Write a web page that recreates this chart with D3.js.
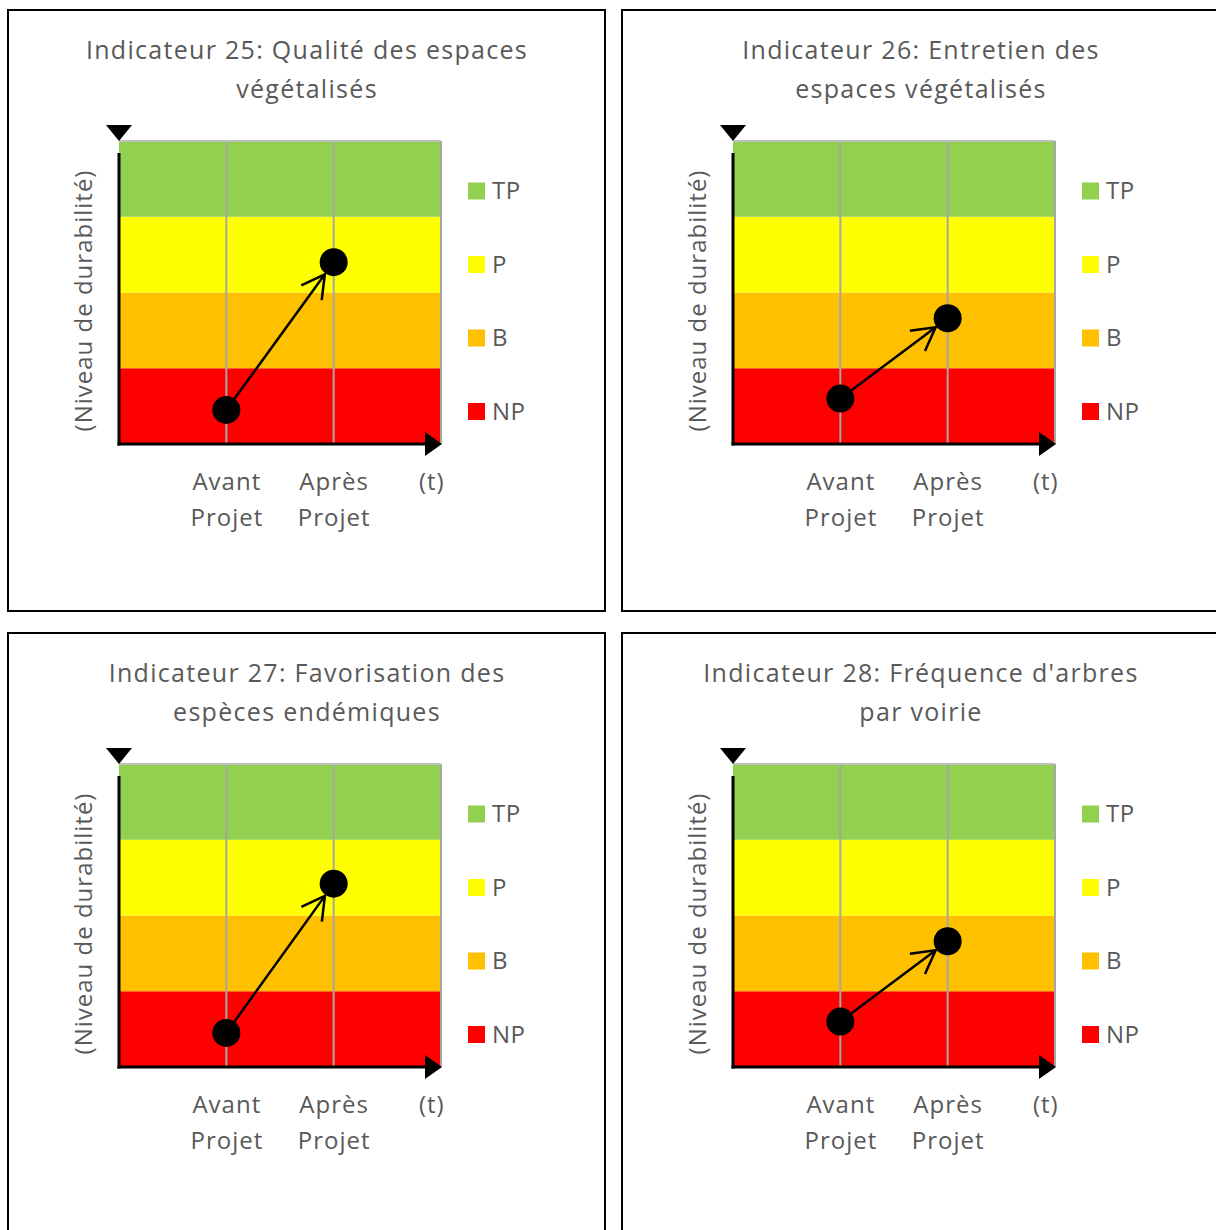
<!DOCTYPE html>
<html><head><meta charset="utf-8">
<script src="https://cdn.jsdelivr.net/npm/d3@7"></script>
<style>body{margin:0;background:#fff}svg{display:block}</style>
</head><body>
<script>
const titles = [
  ["Indicateur 25: Qualité des espaces", "végétalisés"],
  ["Indicateur 26: Entretien des", "espaces végétalisés"],
  ["Indicateur 27: Favorisation des", "espèces endémiques"],
  ["Indicateur 28: Fréquence d'arbres", "par voirie"]
];
const avantValues = [0.45, 0.6, 0.45, 0.6];
const apresValues = [2.4, 1.66, 2.42, 1.66];
const xCategories = [["Avant", "Projet"], ["Après", "Projet"], ["(t)"]];
const levels = ["NP", "B", "P", "TP"];
const levelColors = ["#FF0000", "#FFC000", "#FFFF00", "#92D050"];
const yTitle = "(Niveau de durabilité)";

const W = 1216, H = 1230;
const FONT = "'Open Sans', sans-serif";
const GREY = "#595959";
const svg = d3.select("body").append("svg").attr("width", W).attr("height", H);

const panelW = 597, panelH = 601, offX = 614, offY = 623;
const x = d3.scaleLinear().domain([0, 3]).range([111, 433]);
const y = d3.scaleLinear().domain([0, 4]).range([434, 131]);

titles.forEach((t, i) => {
  const col = i % 2, row = Math.floor(i / 2);
  const g = svg.append("g").attr("transform", `translate(${8 + col * offX},${10 + row * offY})`);
  g.append("rect").attr("x", 0).attr("y", 0).attr("width", panelW).attr("height", panelH)
    .attr("fill", "#fff").attr("stroke", "#000").attr("stroke-width", 2);

  // title
  g.append("text").attr("x", 298).attr("y", 40).attr("text-anchor", "middle")
    .attr("font-family", FONT).attr("font-size", 25).attr("letter-spacing", 1.3).attr("fill", GREY)
    .selectAll("tspan").data(t).join("tspan")
    .attr("x", 299).attr("dy", (d, j) => j === 0 ? 9 : 39).text(d => d);

  // bands
  g.selectAll("rect.band").data(levels).join("rect").attr("class", "band")
    .attr("x", x(0)).attr("width", x(3) - x(0))
    .attr("y", (d, k) => y(k + 1)).attr("height", (d, k) => y(k) - y(k + 1))
    .attr("fill", (d, k) => levelColors[k]);

  // grid lines
  g.selectAll("line.grid").data([1, 2, 3]).join("line").attr("class", "grid")
    .attr("x1", d => x(d)).attr("x2", d => x(d)).attr("y1", y(4)).attr("y2", y(0))
    .attr("stroke", "#A6A6A6").attr("stroke-width", 2);
  g.append("line").attr("x1", x(0)).attr("x2", x(3)).attr("y1", y(4)).attr("y2", y(4))
    .attr("stroke", "#BFBFBF").attr("stroke-width", 2);

  // y axis (with reversed arrow at top)
  g.append("line").attr("x1", x(0)).attr("x2", x(0)).attr("y1", y(4) + 12).attr("y2", y(0) + 1.5)
    .attr("stroke", "#000").attr("stroke-width", 3);
  g.append("path").attr("d", `M${x(0) - 13},${y(4) - 16} L${x(0) + 13},${y(4) - 16} L${x(0)},${y(4)} Z`)
    .attr("fill", "#000");
  // x axis with arrow
  g.append("line").attr("x1", x(0) - 1.5).attr("x2", x(3) - 12).attr("y1", y(0)).attr("y2", y(0))
    .attr("stroke", "#000").attr("stroke-width", 3);
  g.append("path").attr("d", `M${x(3) - 16},${y(0) - 12} L${x(3) - 16},${y(0) + 12} L${x(3) + 1},${y(0)} Z`)
    .attr("fill", "#000");

  // x category labels
  const xl = g.selectAll("text.xcat").data(xCategories).join("text").attr("class", "xcat")
    .attr("text-anchor", "middle").attr("font-family", FONT).attr("font-size", 24)
    .attr("letter-spacing", 1).attr("fill", GREY)
    .attr("transform", (d, k) => `translate(${(k === 2 ? x(2.91) : x(k + 1)) + 0.5},${y(0) + 46})`);
  xl.selectAll("tspan").data(d => d).join("tspan").attr("x", 0).attr("dy", (d, j) => j === 0 ? 0 : 36).text(d => d);

  // y title
  g.append("text").attr("transform", `translate(${76},${y(2) + 8}) rotate(-90)`)
    .attr("text-anchor", "middle").attr("dy", "0.35em")
    .attr("font-family", FONT).attr("font-size", 24).attr("letter-spacing", 1)
    .attr("fill", GREY).text(yTitle);

  // legend
  const leg = g.selectAll("g.leg").data(levels).join("g").attr("class", "leg")
    .attr("transform", (d, k) => `translate(460,${401 - k * 73.5})`);
  leg.append("rect").attr("x", 0).attr("y", -8).attr("width", 17).attr("height", 17)
    .attr("fill", (d, k) => levelColors[k]);
  leg.append("text").attr("x", 24).attr("y", 0).attr("dy", "0.36em")
    .attr("font-family", FONT).attr("font-size", 24).attr("letter-spacing", 0.5)
    .attr("fill", GREY).text(d => d);

  // arrow between points
  const p1 = [x(1), y(avantValues[i])], p2 = [x(2), y(apresValues[i])];
  const dx = p2[0] - p1[0], dy = p2[1] - p1[1], len = Math.hypot(dx, dy);
  const ux = dx / len, uy = dy / len, r = 14;
  const s = [p1[0] + ux * r, p1[1] + uy * r], e = [p2[0] - ux * (r + 1), p2[1] - uy * (r + 1)];
  g.append("line").attr("x1", s[0]).attr("y1", s[1]).attr("x2", e[0]).attr("y2", e[1])
    .attr("stroke", "#000").attr("stroke-width", 2.5);
  const al = 26, ang = 29 * Math.PI / 180;
  const back = Math.atan2(-uy, -ux);
  const a1 = [e[0] + al * Math.cos(back + ang), e[1] + al * Math.sin(back + ang)];
  const a2 = [e[0] + al * Math.cos(back - ang), e[1] + al * Math.sin(back - ang)];
  g.append("path").attr("d", `M${a1[0]},${a1[1]} L${e[0]},${e[1]} L${a2[0]},${a2[1]}`)
    .attr("fill", "none").attr("stroke", "#000").attr("stroke-width", 2.5);

  g.selectAll("circle.pt").data([p1, p2]).join("circle").attr("class", "pt")
    .attr("cx", d => d[0]).attr("cy", d => d[1]).attr("r", r).attr("fill", "#000");
});
</script>
</body></html>
